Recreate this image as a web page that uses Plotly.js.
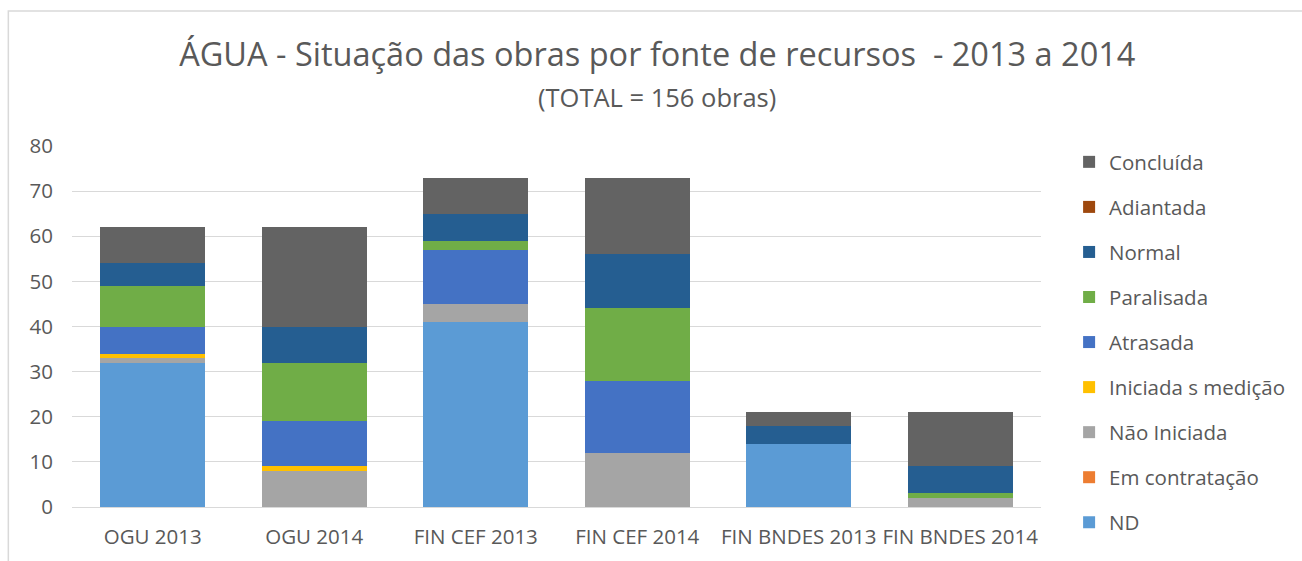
<!DOCTYPE html>
<html>
<head>
<meta charset="utf-8">
<script src="https://cdn.plot.ly/plotly-3.0.1.min.js"></script>
<style>html,body{margin:0;padding:0;background:#fff;}#chart{width:1302px;height:561px;}</style>
</head>
<body>
<div id="chart"></div>
<script>
const categories = ["OGU 2013", "OGU 2014", "FIN CEF 2013", "FIN CEF 2014", "FIN BNDES 2013", "FIN BNDES 2014"];
const ND            = [32, 0, 41, 0, 14, 0];
const emContratacao = [0, 0, 0, 0, 0, 0];
const naoIniciada   = [1, 8, 4, 12, 0, 2];
const iniciadaSMed  = [1, 1, 0, 0, 0, 0];
const atrasada      = [6, 10, 12, 16, 0, 0];
const paralisada    = [9, 13, 2, 16, 0, 1];
const normal        = [5, 8, 6, 12, 4, 6];
const adiantada     = [0, 0, 0, 0, 0, 0];
const concluida     = [8, 22, 8, 17, 3, 12];

const seriesNames  = ["ND", "Em contratação", "Não Iniciada", "Iniciada s medição", "Atrasada", "Paralisada", "Normal", "Adiantada", "Concluída"];
const seriesValues = [ND, emContratacao, naoIniciada, iniciadaSMed, atrasada, paralisada, normal, adiantada, concluida];
const seriesColors = ["#5B9BD5", "#ED7D31", "#A5A5A5", "#FFC000", "#4472C4", "#70AD47", "#255E91", "#9E480E", "#636363"];

const font = "Open Sans, Lato, sans-serif";
const textColor = "#595959";

const traces = seriesNames.map((name, i) => ({
  type: "bar",
  name: name,
  x: categories,
  y: seriesValues[i],
  legendgroup: "g" + i,
  legendrank: seriesNames.length - i,
  marker: { color: seriesColors[i], line: { width: 0 } },
  hoverinfo: "x+y+name"
}));

const layout = {
  width: 1302,
  height: 561,
  paper_bgcolor: "#ffffff",
  plot_bgcolor: "#ffffff",
  barmode: "stack",
  bargap: 0.35,
  margin: { l: 72, r: 256, t: 146, b: 54 },
  font: { family: font, color: textColor, size: 20 },
  title: {
    text: "ÁGUA - Situação das obras por fonte de recursos  - 2013 a 2014",
    font: { family: font, size: 32.5, color: textColor },
    xref: "paper", x: 0.604, xanchor: "center",
    yref: "container", y: 0.902, yanchor: "middle"
  },
  annotations: [{
    text: "(TOTAL = 156 obras)",
    xref: "paper", yref: "paper",
    x: 0.604, y: 1.135, xanchor: "center", yanchor: "middle",
    showarrow: false,
    font: { family: font, size: 25.5, color: textColor }
  }],
  xaxis: {
    type: "category",
    showgrid: false,
    zeroline: false,
    showline: true,
    linecolor: "#D9D9D9",
    linewidth: 1,
    ticks: "",
    ticklabelstandoff: 11,
    tickfont: { family: font, size: 20.5, color: textColor },
    fixedrange: true
  },
  yaxis: {
    range: [0, 80],
    dtick: 10,
    showgrid: true,
    gridcolor: "#D9D9D9",
    gridwidth: 1,
    zeroline: false,
    showline: false,
    ticks: "",
    ticklabelstandoff: 18,
    tickfont: { family: font, size: 20.5, color: textColor },
    fixedrange: true
  },
  legend: {
    x: 1.029, xanchor: "left",
    y: 1.011, yanchor: "top",
    traceorder: "grouped",
    tracegroupgap: 15.4,
    maxheight: 500,
    font: { family: font, size: 20.5, color: textColor },
    itemwidth: 30,
    bgcolor: "rgba(0,0,0,0)"
  },
  shapes: [{
    type: "rect",
    xref: "paper", yref: "paper",
    x0: -0.0657, y0: -0.3, x1: 1.4, y1: 1.374,
    line: { color: "#D9D9D9", width: 1.5 },
    fillcolor: "rgba(0,0,0,0)",
    layer: "below"
  }]
};

Plotly.newPlot("chart", traces, layout, { displayModeBar: false, staticPlot: true });
</script>
</body>
</html>
